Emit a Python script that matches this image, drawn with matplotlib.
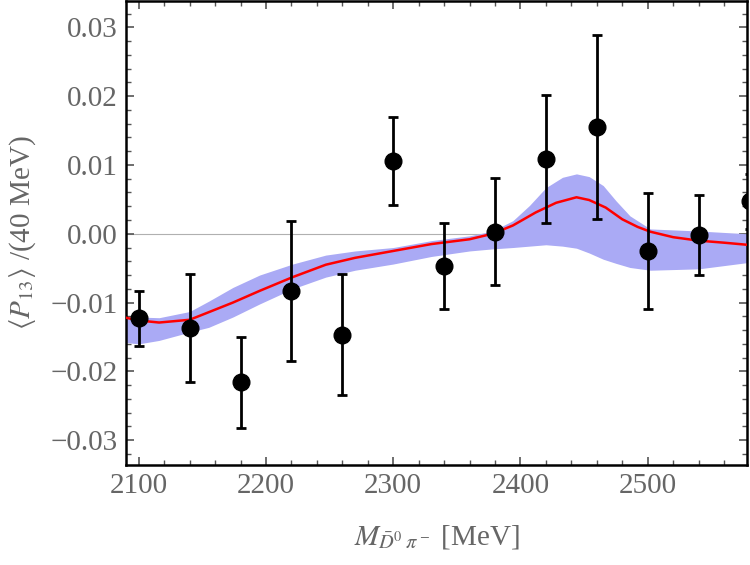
import matplotlib
matplotlib.use('Agg')
import matplotlib.pyplot as plt
from matplotlib.ticker import MultipleLocator, FuncFormatter

plt.rcParams['font.family'] = ['Liberation Serif', 'DejaVu Serif']
plt.rcParams['mathtext.fontset'] = 'stix'

# data points
mass = [2100, 2140, 2180, 2220, 2260, 2300, 2340, 2380, 2420, 2460, 2500, 2540, 2580]
p13 = [-0.0123, -0.0137, -0.0216, -0.0083, -0.0147, 0.0106, -0.0047, 0.0003,
       0.0109, 0.0155, -0.0025, -0.0002, 0.0047]
err = [0.0040, 0.0079, 0.0066, 0.0102, 0.0088, 0.0064, 0.0062, 0.0078,
       0.0093, 0.0134, 0.0084, 0.0058, 0.0040]

# model curve
m_fit = [2090, 2100, 2116, 2140, 2155, 2174, 2195, 2221, 2247, 2270, 2300, 2330,
         2360, 2378, 2394, 2412, 2428, 2444, 2454, 2467, 2480, 2492, 2502, 2520,
         2540, 2560, 2578]
p_fit = [-0.0122, -0.0126, -0.0129, -0.0125, -0.0114, -0.0100, -0.0083, -0.0063,
         -0.0045, -0.0035, -0.0025, -0.0015, -0.0008, 0.0000, 0.0012, 0.0031,
         0.0045, 0.0053, 0.0049, 0.0038, 0.0021, 0.0010, 0.0003, -0.0005,
         -0.0010, -0.0013, -0.0016]

# error band
m_band = [2090, 2100, 2116, 2140, 2155, 2174, 2195, 2221, 2247, 2270, 2300, 2330,
          2360, 2378, 2394, 2407, 2420, 2433, 2444, 2454, 2465, 2475, 2486, 2502,
          2540, 2578]
band_lo = [-0.0158, -0.0160, -0.0155, -0.0143, -0.0136, -0.0121, -0.0102, -0.0080,
           -0.0063, -0.0053, -0.0044, -0.0033, -0.0025, -0.0022, -0.0020, -0.0018,
           -0.0016, -0.0018, -0.0021, -0.0028, -0.0037, -0.0043, -0.0049, -0.0053,
           -0.0051, -0.0042]
band_hi = [-0.0121, -0.0121, -0.0122, -0.0113, -0.0098, -0.0078, -0.0060, -0.0044,
           -0.0031, -0.0025, -0.0020, -0.0010, -0.0003, 0.0004, 0.0019, 0.0041,
           0.0067, 0.0082, 0.0087, 0.0083, 0.0070, 0.0048, 0.0026, 0.0007,
           0.0004, 0.0000]

fig = plt.figure(figsize=(7.5, 5.65), dpi=100)
ax = fig.add_axes([0.168, 0.177, 0.828, 0.821])

ax.axhline(0, color='#b0b0b0', lw=0.8, zorder=1)
ax.fill_between(m_band, band_lo, band_hi, color='#aaaaf5', lw=0, zorder=2)
ax.plot(m_fit, p_fit, color='red', lw=1.8, zorder=3)
ax.errorbar(mass, p13, yerr=err, fmt='o', color='black', ms=12, elinewidth=2,
            capsize=3.6, capthick=2, zorder=4)

ax.set_xlim(2090, 2578)
ax.set_ylim(-0.0336, 0.0338)
ax.xaxis.set_major_locator(MultipleLocator(100))
ax.xaxis.set_minor_locator(MultipleLocator(20))
ax.yaxis.set_major_locator(MultipleLocator(0.01))
ax.yaxis.set_minor_locator(MultipleLocator(0.002))
ax.yaxis.set_major_formatter(FuncFormatter(
    lambda v, p: ('%.2f' % v).replace('-', '\u2212')))

for s in ax.spines.values():
    s.set_linewidth(1.8)
ax.tick_params(which='both', direction='in', top=True, right=True,
               labelsize=21, labelcolor='#666666', color='#555555')
ax.tick_params(which='major', length=6, width=1.2, pad=6)
ax.tick_params(which='minor', length=3.5, width=1.0)

ax.set_xlabel(r'$M_{\bar{D}^0\;\pi^-}$ [MeV]', fontsize=21, color='#666666', labelpad=17)
ax.set_ylabel(r'$\langle P_{13}\rangle$ /(40 MeV)', fontsize=21, color='#666666', labelpad=9)

fig.savefig('out.png')
